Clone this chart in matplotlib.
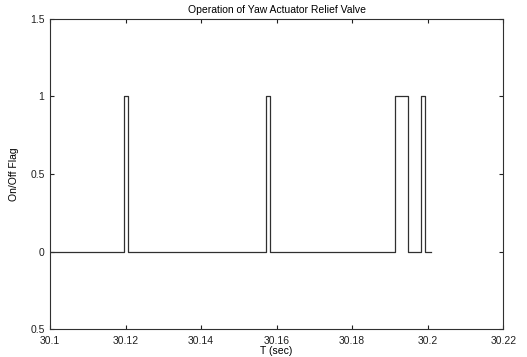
import matplotlib
matplotlib.use('Agg')
import matplotlib.pyplot as plt

plt.rcParams['font.family'] = ['Liberation Sans', 'DejaVu Sans']
plt.rcParams['font.size'] = 7.5

# switching instants of the relief valve (sec) and the flag held after each one
t_switch = [30.1, 30.1196, 30.1207, 30.1571, 30.1583, 30.1912, 30.1949,
            30.1981, 30.1994, 30.2009]
flag = [0, 1, 0, 1, 0, 1, 0, 1, 0, 0]

x_ticks = [30.1, 30.12, 30.14, 30.16, 30.18, 30.2, 30.22]
x_tick_labels = ['30.1', '30.12', '30.14', '30.16', '30.18', '30.2', '30.22']
y_ticks = [-0.5, 0, 0.5, 1, 1.5]
y_tick_labels = ['0.5', '0', '0.5', '1', '1.5']

fig = plt.figure(figsize=(5.27, 3.57), dpi=100)
ax = fig.add_axes([0.095, 0.078, 0.860, 0.869])

ax.step(t_switch, flag, where='post', color='#303030', linewidth=0.9)

ax.set_xlim(30.1, 30.22)
ax.set_ylim(-0.5, 1.5)
ax.set_xticks(x_ticks)
ax.set_xticklabels(x_tick_labels)
ax.set_yticks(y_ticks)
ax.set_yticklabels(y_tick_labels)
ax.tick_params(direction='in', length=3, width=0.8, top=True, right=True,
               labelsize=7.5, colors='#202020')
ax.tick_params(axis='x', pad=5)
ax.tick_params(axis='y', pad=4)
for s in ax.spines.values():
    s.set_linewidth(0.8)
    s.set_color('#303030')

ax.set_title('Operation of Yaw Actuator Relief Valve', fontsize=7.5, pad=4)
ax.set_xlabel('T (sec)', fontsize=7.5, labelpad=0)
ax.set_ylabel('On/Off Flag', fontsize=7.5, labelpad=8)

fig.savefig('out.png', dpi=100)
